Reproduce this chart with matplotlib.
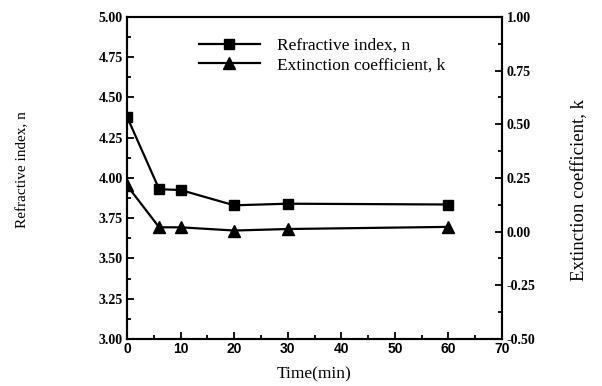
import matplotlib.pyplot as plt
from matplotlib.ticker import MultipleLocator

time_min = [0, 6, 10, 20, 30, 60]
refr_n = [4.38, 3.93, 3.925, 3.83, 3.84, 3.835]
ext_k = [0.215, 0.02, 0.02, 0.005, 0.012, 0.022]

x_ticks = [0, 10, 20, 30, 40, 50, 60, 70]
x_ticklabels = ["0", "10", "20", "30", "40", "50", "60", "70"]

serif = "Liberation Serif"

fig = plt.figure(figsize=(6.02, 3.86), dpi=100)
ax = fig.add_axes([0.211, 0.122, 0.623, 0.834])
ax2 = ax.twinx()

l1, = ax.plot(time_min, refr_n, color="black", lw=1.6, marker="s", ms=7)
l2, = ax2.plot(time_min, ext_k, color="black", lw=1.6, marker="^", ms=8)

ax.set_xlim(0, 70)
ax.set_ylim(3.0, 5.0)
ax2.set_ylim(-0.5, 1.0)

ax.set_xticks(x_ticks)
ax.set_xticklabels(x_ticklabels, fontfamily="Liberation Sans", fontweight="bold", fontsize=10)
ax.xaxis.set_minor_locator(MultipleLocator(5))
ax.yaxis.set_major_locator(MultipleLocator(0.25))
ax.yaxis.set_minor_locator(MultipleLocator(0.125))
ax2.yaxis.set_major_locator(MultipleLocator(0.25))
ax2.yaxis.set_minor_locator(MultipleLocator(0.125))

ax.yaxis.set_major_formatter(lambda v, p: f"{v:.2f}")
ax2.yaxis.set_major_formatter(lambda v, p: f"{v:.2f}")

for a in (ax, ax2):
    a.tick_params(which="both", direction="in", width=1.3)
    a.tick_params(which="major", length=5)
    a.tick_params(which="minor", length=3)
    for s in a.spines.values():
        s.set_linewidth(1.5)
    for lab in a.get_yticklabels():
        lab.set_fontfamily(serif)
        lab.set_fontweight("bold")
        lab.set_fontsize(10)
ax.tick_params(axis="x", pad=2)
ax.tick_params(axis="y", pad=3)

ax.set_xlabel("Time(min)", fontfamily=serif, fontsize=12.5, labelpad=8)
ax.set_ylabel("Refractive index, n", fontfamily=serif, fontsize=11)
ax.yaxis.set_label_coords(-0.262, 0.525)
ax2.set_ylabel("Extinction coefficient, k", fontfamily=serif, fontsize=13.5)
ax2.yaxis.set_label_coords(1.183, 0.463)

leg = ax.legend([l1, l2], ["Refractive index, n", "Extinction coefficient, k"],
                loc="upper left", bbox_to_anchor=(0.15, 0.985), frameon=False,
                prop={"family": serif, "size": 12.5}, handlelength=3.5,
                labelspacing=0.2, handletextpad=1.0)

fig.savefig("out.png", dpi=100)
